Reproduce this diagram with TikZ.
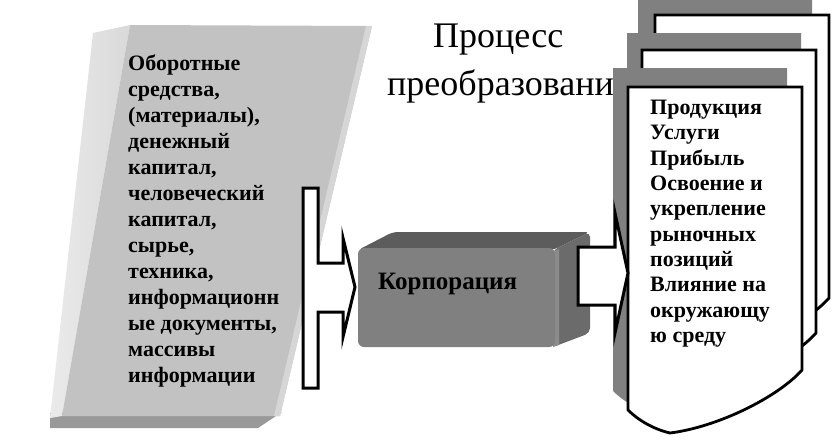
\documentclass[tikz,border=0pt]{standalone}
\usepackage{fontspec}
\setmainfont{Liberation Serif}[BoldFont={Liberation Serif Bold}]
\begin{document}
\begin{tikzpicture}[x=1pt,y=-1pt,
  txt/.style={inner sep=0pt, align=left, font=\fontsize{22}{26}\selectfont\bfseries},
  rtxt/.style={inner sep=0pt, align=left, font=\fontsize{22}{25.3}\selectfont\bfseries},
  blockarrow/.style={draw=black, line width=3pt, fill=white, line join=miter},
  docshape/.style={draw=black, line width=2.8pt, fill=white},
  docshadow/.style={fill=black!50, draw=none}]
\useasboundingbox (0,0) rectangle (834,439);
% ---- left slab ----
\fill[black!40] (50,412) -- (282,412) -- (258,428) -- (50,428) -- cycle;
\shade[left color=black!8, right color=black!15] (93,33) -- (130,25) -- (62,416) -- (50,418) -- cycle;
\fill[black!24] (130,25) -- (372,26) -- (280,416) -- (62,416) -- cycle;
\fill[black!16] (372,26) -- (366,26) -- (274,416) -- (280,416) -- cycle;
\node[txt, anchor=north west] (inputs) at (128,55) {Оборотные\\средства,\\(материалы),\\денежный\\капитал,\\человеческий\\капитал,\\сырье,\\техника,\\информационн\\ые документы,\\массивы\\информации};
% ---- left bracket arrow ----
\draw[blockarrow] (303,188) -- (318,188) -- (318,263) -- (343,263) -- (343,238) -- (355,287) -- (343,337) -- (343,312) -- (318,312) -- (318,388) -- (303,388) -- cycle;
% ---- corporation box ----
\fill[black!64, rounded corners=5pt] (358,250) -- (393,232) -- (590,232) -- (553,250) -- cycle;
\fill[black!58, rounded corners=5pt] (553,250) -- (590,232) -- (590,333) -- (553,347) -- cycle;
\fill[black!45] (553,252) -- (559,249) -- (559,345) -- (553,347) -- cycle;
\fill[black!50, rounded corners=6pt] (358,248) rectangle (555,347);
\node[inner sep=0pt, font=\fontsize{25}{30}\selectfont\bfseries, anchor=base west] (corp) at (378,289) {Корпорация};
% ---- title ----
\node[inner sep=0pt, font=\fontsize{36}{48}\selectfont, anchor=base west] (title1) at (433,47) {Процесс};
\node[inner sep=0pt, font=\fontsize{36}{48}\selectfont, anchor=base west] (title2) at (387,95) {преобразования};
% ---- documents ----
\def\docpath{(0,0) -- (174,0) -- (174,283) .. controls (150,310) and (90,340) .. (42,346) .. controls (25,342) and (10,333) .. (0,323) -- cycle}
\begin{scope}[shift={(638,-3)}]
  \fill[docshadow] \docpath;
\end{scope}
\begin{scope}[shift={(655,15)}]
  \draw[docshape] \docpath;
\end{scope}
\begin{scope}[shift={(627,33)}]
  \fill[docshadow] \docpath;
\end{scope}
\begin{scope}[shift={(642,50)}]
  \draw[docshape] \docpath;
\end{scope}
\begin{scope}[shift={(613,68)}]
  \fill[docshadow] \docpath;
\end{scope}
\begin{scope}[shift={(628,87)}]
  \draw[docshape] \docpath;
\end{scope}
\node[rtxt, anchor=north west] (outputs) at (650,100) {Продукция\\Услуги\\Прибыль\\Освоение и\\укрепление\\рыночных\\позиций\\Влияние на\\окружающу\\ю среду};
% ---- right block arrow ----
\draw[blockarrow] (578,247) -- (615,247) -- (615,213) -- (628,273) -- (615,333) -- (615,305) -- (578,305) -- cycle;
\end{tikzpicture}
\end{document}
